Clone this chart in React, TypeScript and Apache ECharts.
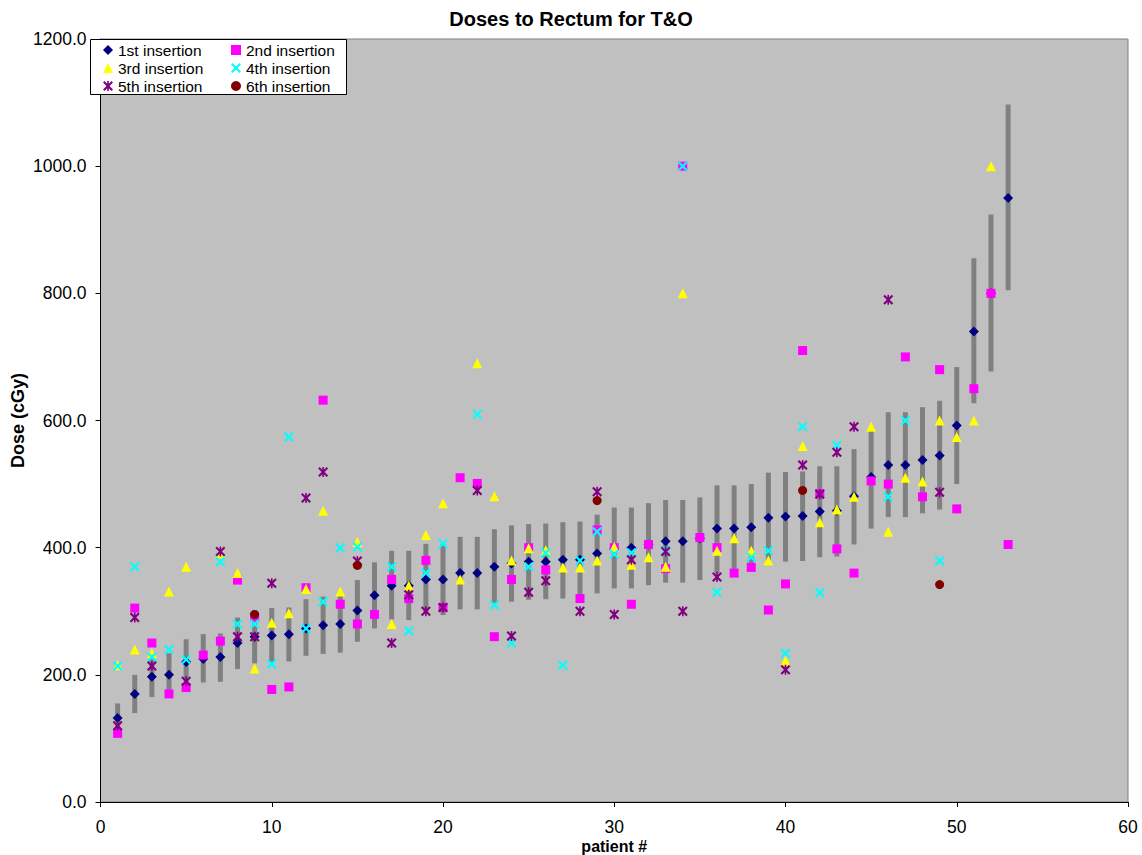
import { useEffect, useRef } from 'react';
import * as echarts from 'echarts';

// patient numbers (x axis)
const patients = [
  1, 2, 3, 4, 5, 6, 7, 8, 9, 10, 11, 12, 13, 14, 15, 16, 17, 18, 19, 20,
  21, 22, 23, 24, 25, 26, 27, 28, 29, 30, 31, 32, 33, 34, 35, 36, 37, 38, 39, 40,
  41, 42, 43, 44, 45, 46, 47, 48, 49, 50, 51, 52, 53
];

// doses (cGy) for each insertion, one value per patient, null = no insertion
const ins1 = [
  132, 170, 197, 200, 220, 225, 228, 250, 260, 262, 264, 273, 278, 280, 301, 325, 340, 340, 350, 350,
  360, 360, 370, 375, 378, 378, 381, 381, 391, 398, 400, 405, 410, 410, 415, 430, 430, 432, 447, 449,
  450, 457, 458, 481, 511, 530, 530, 538, 545, 592, 740, 800, 950
];
const ins2 = [
  108, 305, 250, 170, 180, 231, 253, 349, 291, 177, 181, 337, 632, 311, 280, 295, 350, 320, 380, 306,
  510, 501, 260, 350, 400, 365, null, 320, 428, 400, 311, 405, 367, 1000, 416, 400, 360, 369, 302, 343,
  710, 485, 398, 360, 505, 500, 700, 480, 680, 461, 650, 800, 405
];
const ins3 = [
  215, 240, 234, 331, 370, null, 391, 360, 210, 282, 297, 335, 458, 331, 409, null, 280, 340, 420, 470,
  350, 690, 481, 380, 399, 396, 369, 369, 380, 401, 373, 385, 370, 800, null, 395, 415, 395, 380, 222,
  560, 440, 460, 480, 590, 425, 510, 504, 600, 574, 600, 1000, null
];
const ins4 = [
  214, 370, 228, 240, 224, null, 378, 280, 280, 217, 574, 273, 315, 400, 401, null, 370, 269, 360, 406,
  null, 610, 310, 250, 370, 392, 215, 380, 425, 390, 392, null, 396, 1000, null, 330, null, 385, 395, 234,
  590, 329, 561, null, null, 480, 600, null, 379, null, null, null, null
];
const ins5 = [
  120, 290, 214, null, 190, null, 394, 260, 260, 344, null, 478, 519, null, 379, null, 250, 326, 300, 306,
  null, 490, null, 261, 330, 348, null, 300, 488, 295, 381, null, 394, 300, null, 354, null, null, null, 208,
  530, 484, 550, 590, null, 790, null, null, 487, null, null, null, null
];
const ins6 = [
  null, null, null, null, null, null, null, null, 295, null, null, null, null, null, 372, null, null, null, null, null,
  null, null, null, null, null, null, null, null, 474, null, null, null, null, null, null, null, null, null, null, null,
  490, null, null, null, null, null, null, null, 342, null, null, null, null
];

// gray range bars (low / high) per patient
const rangeLow = [
  113, 140, 165, 167, 187, 188, 189, 209, 218, 220, 221, 230, 233, 235, 252, 273, 287, 286, 296, 294,
  303, 303, 312, 315, 318, 319, 320, 320, 328, 336, 336, 341, 345, 345, 349, 360, 363, 365, 375, 378,
  379, 385, 386, 405, 430, 448, 448, 454, 460, 500, 627, 677, 805
];
const rangeHigh = [
  155, 200, 230, 234, 256, 264, 265, 290, 302, 305, 306, 319, 323, 325, 349, 377, 395, 395, 406, 406,
  417, 417, 429, 435, 437, 438, 440, 441, 452, 463, 463, 470, 475, 475, 479, 498, 498, 500, 518, 519,
  520, 528, 528, 555, 590, 613, 613, 621, 631, 684, 855, 924, 1097
];

const seriesNames = ['1st insertion', '2nd insertion', '3rd insertion', '4th insertion', '5th insertion', '6th insertion'];

const xPath = 'path://M0,1.5 L1.5,0 L5,3.5 L8.5,0 L10,1.5 L6.5,5 L10,8.5 L8.5,10 L5,6.5 L1.5,10 L0,8.5 L3.5,5 Z';
const starPath = 'path://M0,1.5 L1.5,0 L5,3.5 L8.5,0 L10,1.5 L6.5,5 L10,8.5 L8.5,10 L5,6.5 L1.5,10 L0,8.5 L3.5,5 Z M4.2,0 L5.8,0 L5.8,10 L4.2,10 Z';

const FONT = 'Arial, "Liberation Sans", sans-serif';

const toPoints = (vals: (number | null)[]) =>
  patients.map((p, i) => [p, vals[i]]).filter(d => d[1] != null);

const DosesChart = () => {
  const chartRef = useRef<HTMLDivElement>(null);

  useEffect(() => {
    if (!chartRef.current) return;
    const chart = echarts.init(chartRef.current, undefined, { renderer: 'svg' });

    const styles = [
      { symbol: 'diamond', size: 10, color: '#000080' },
      { symbol: 'rect', size: 9, color: '#FF00FF' },
      { symbol: 'triangle', size: 10, color: '#FFFF00' },
      { symbol: xPath, size: 10, color: '#00FFFF' },
      { symbol: starPath, size: 10, color: '#800080' },
      { symbol: 'circle', size: 9, color: '#800000' }
    ];
    const values = [ins1, ins2, ins3, ins4, ins5, ins6];

    const scatterSeries = seriesNames.map((name, i) => ({
      name,
      type: 'scatter',
      data: toPoints(values[i]),
      symbol: styles[i].symbol,
      symbolSize: styles[i].size,
      itemStyle: { color: styles[i].color, opacity: 1 },
      z: 3 + i
    }));

    const legendText = { fontFamily: FONT, fontSize: 15.5, color: '#000' };

    const option: any = {
      animation: false,
      backgroundColor: '#fff',
      title: {
        text: 'Doses to Rectum for T&O',
        left: 'center',
        top: 4,
        padding: [5, 5, 5, 18],
        textStyle: { fontFamily: FONT, fontSize: 20, fontWeight: 'bold', color: '#000' }
      },
      grid: {
        left: 100.5,
        right: 14,
        top: 39,
        bottom: 53,
        outerBoundsMode: 'none',
        containLabel: false,
        show: true,
        backgroundColor: '#C0C0C0',
        borderColor: '#808080',
        borderWidth: 1
      },
      xAxis: {
        type: 'value',
        min: 0,
        max: 60,
        interval: 10,
        name: 'patient #',
        nameLocation: 'middle',
        nameGap: 36,
        nameMoveOverlap: false,
        nameTextStyle: { fontFamily: FONT, fontSize: 16, fontWeight: 'bold', color: '#000' },
        axisLine: { lineStyle: { color: '#000', width: 1 } },
        axisTick: { show: true, length: 5, lineStyle: { color: '#000' } },
        axisLabel: { fontFamily: FONT, fontSize: 17.5, color: '#000', margin: 16 },
        splitLine: { show: false }
      },
      yAxis: {
        type: 'value',
        min: 0,
        max: 1200,
        interval: 200,
        name: 'Dose (cGy)',
        nameLocation: 'middle',
        nameRotate: 90,
        nameGap: 74,
        nameMoveOverlap: false,
        nameTextStyle: { fontFamily: FONT, fontSize: 18, fontWeight: 'bold', color: '#000' },
        axisLine: { show: true, lineStyle: { color: '#000', width: 1 } },
        axisTick: { show: true, length: 5, lineStyle: { color: '#000' } },
        axisLabel: {
          fontFamily: FONT,
          fontSize: 17.5,
          color: '#000',
          margin: 14,
          formatter: (v: number) => v.toFixed(1)
        },
        splitLine: { show: false }
      },
      legend: [
        {
          orient: 'vertical',
          left: 103,
          top: 42,
          itemGap: 2,
          itemWidth: 10,
          itemHeight: 10,
          padding: 0,
          textStyle: legendText,
          data: [
            { name: seriesNames[0], icon: 'diamond' },
            { name: seriesNames[2], icon: 'triangle' },
            { name: seriesNames[4], icon: starPath }
          ],
          z: 20
        },
        {
          orient: 'vertical',
          left: 231,
          top: 42,
          itemGap: 2,
          itemWidth: 10,
          itemHeight: 10,
          padding: 0,
          textStyle: legendText,
          data: [
            { name: seriesNames[1], icon: 'rect' },
            { name: seriesNames[3], icon: xPath },
            { name: seriesNames[5], icon: 'circle' }
          ],
          z: 20
        }
      ],
      graphic: [
        {
          type: 'rect',
          shape: { x: 90.5, y: 39.5, width: 256, height: 55 },
          style: { fill: '#fff', stroke: '#000', lineWidth: 1 },
          z: 15
        }
      ],
      series: [
        {
          type: 'custom',
          name: 'range',
          data: patients.map((p, i) => [p, rangeLow[i], rangeHigh[i]]),
          encode: { x: 0, y: [1, 2] },
          z: 1,
          renderItem: (_params: any, api: any) => {
            const x = api.value(0);
            const top = api.coord([x, api.value(2)]);
            const bottom = api.coord([x, api.value(1)]);
            return {
              type: 'rect',
              shape: { x: top[0] - 2.5, y: top[1], width: 5, height: bottom[1] - top[1] },
              style: { fill: '#808080' }
            };
          }
        },
        ...scatterSeries
      ]
    };

    chart.setOption(option);

    return () => {
      chart.dispose();
    };
  }, []);

  return (
    <div
      ref={chartRef}
      style={{ position: 'absolute', left: 0, top: 0, width: '1142px', height: '855px' }}
    />
  );
};

export default function App() {
  return <DosesChart />;
}
